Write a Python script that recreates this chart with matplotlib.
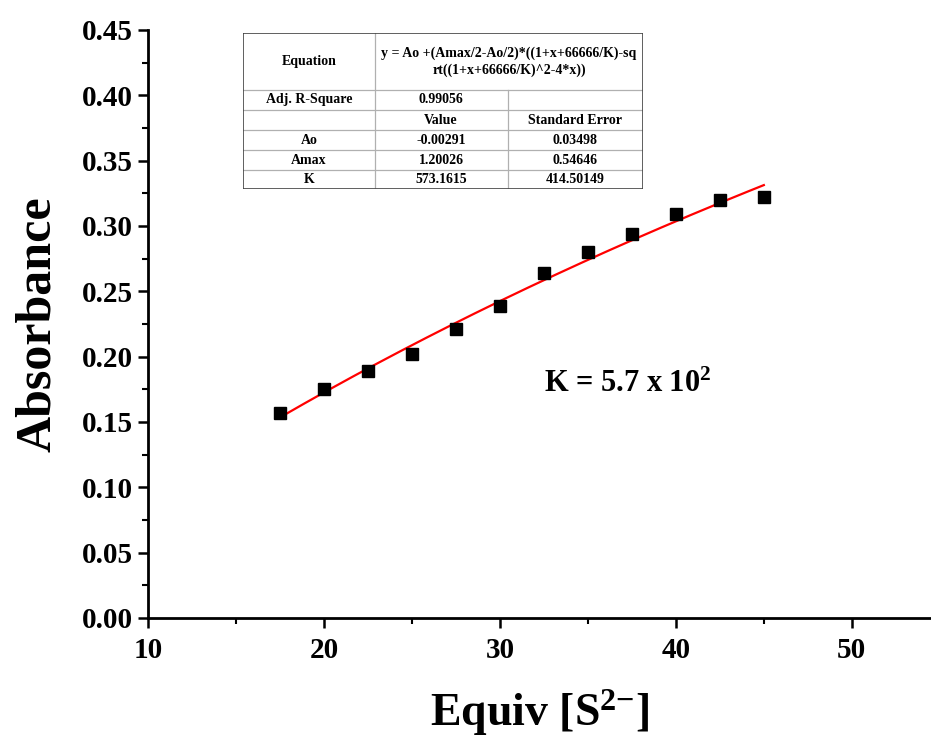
import numpy as np
import matplotlib.pyplot as plt
from matplotlib.ticker import MultipleLocator

plt.rcParams['font.family'] = 'Liberation Serif'
plt.rcParams['font.weight'] = 'bold'
plt.rcParams['mathtext.fontset'] = 'custom'
plt.rcParams['mathtext.rm'] = 'Liberation Serif:bold'
plt.rcParams['mathtext.bf'] = 'Liberation Serif:bold'
plt.rcParams['mathtext.it'] = 'Liberation Serif:bold'

# titration data
equiv = [17.5, 20, 22.5, 25, 27.5, 30, 32.5, 35, 37.5, 40, 42.5, 45]
absorb = [0.157, 0.175, 0.189, 0.202, 0.221, 0.239, 0.264, 0.280, 0.294, 0.309, 0.320, 0.322]

# fitted parameters
Ao = -0.00291
Amax = 1.20026
K = 573.1615
adj_r2 = "0.99056"
fit_rows = [("Ao", "-0.00291", "0.03498"),
            ("Amax", "1.20026", "0.54646"),
            ("K", "573.1615", "414.50149")]


def binding(x):
    a = 1 + x + 66666 / K
    return Ao + (Amax / 2 - Ao / 2) * (a - np.sqrt(a ** 2 - 4 * x))


fig = plt.figure(figsize=(9.31, 7.4), dpi=100)
ax = fig.add_axes([0.159, 0.165, 0.841, 0.7946])

ax.plot(equiv, absorb, 's', color='black', markersize=9, zorder=3)
xf = np.linspace(min(equiv), max(equiv), 200)
ax.plot(xf, binding(xf), color='red', lw=1.6, zorder=2)

ax.set_xlim(10, 54.5)
ax.set_ylim(0, 0.45)
ax.xaxis.set_major_locator(MultipleLocator(10))
ax.xaxis.set_minor_locator(MultipleLocator(5))
ax.yaxis.set_major_locator(MultipleLocator(0.05))
ax.yaxis.set_minor_locator(MultipleLocator(0.025))
ax.yaxis.set_major_formatter(plt.FormatStrFormatter('%.2f'))

for s in ['top', 'right']:
    ax.spines[s].set_visible(False)
for s in ['left', 'bottom']:
    ax.spines[s].set_linewidth(2)
ax.tick_params(which='major', length=7, width=1.8, labelsize=21)
ax.tick_params(axis='x', which='major', pad=7)
ax.tick_params(axis='y', which='major', pad=4)
ax.tick_params(which='minor', length=4, width=1.5)

ax.set_ylabel('Absorbance', fontsize=36, fontweight='bold', labelpad=15)
ax.set_xlabel('Equiv [S$^{2{-}}$]', fontsize=33, fontweight='bold', labelpad=17)

ax.text(32.5, 0.179, 'K = 5.7 x 10$^{2}$', fontsize=22, fontweight='bold', va='center')

# parameter table drawn in pixel units
tab = fig.add_axes([243 / 931, 1 - 189 / 740, 400 / 931, 156 / 740])
tab.set_xlim(0, 400)
tab.set_ylim(156, 0)
tab.axis('off')
col = [0, 132, 265, 400]
row = [0, 57, 77, 97, 117, 137, 156]
grey = '#b0b0b0'
for y in row[1:-1]:
    tab.plot([0, 400], [y, y], color=grey, lw=0.9)
tab.plot([col[1], col[1]], [0, 156], color=grey, lw=0.9)
tab.plot([col[2], col[2]], [row[1], 156], color=grey, lw=0.9)
tab.plot([0, 400, 400, 0, 0], [0, 0, 156, 156, 0], color='#444444', lw=1.2)

fs = 10
tab.text(66, 28.5, 'Equation', ha='center', va='center', fontsize=fs)
tab.text(266, 28.5, 'y = Ao +(Amax/2-Ao/2)*((1+x+66666/K)-sq\nrt((1+x+66666/K)^2-4*x))',
         ha='center', va='center', fontsize=fs, linespacing=1.35)
tab.text(66, 67, 'Adj. R-Square', ha='center', va='center', fontsize=fs)
tab.text(198, 67, adj_r2, ha='center', va='center', fontsize=fs)
tab.text(198, 87, 'Value', ha='center', va='center', fontsize=fs)
tab.text(332, 87, 'Standard Error', ha='center', va='center', fontsize=fs)
for i, (name, val, err) in enumerate(fit_rows):
    yc = (row[3 + i] + row[4 + i]) / 2
    tab.text(66, yc, name, ha='center', va='center', fontsize=fs)
    tab.text(198, yc, val, ha='center', va='center', fontsize=fs)
    tab.text(332, yc, err, ha='center', va='center', fontsize=fs)

fig.savefig('out.png', dpi=100)
